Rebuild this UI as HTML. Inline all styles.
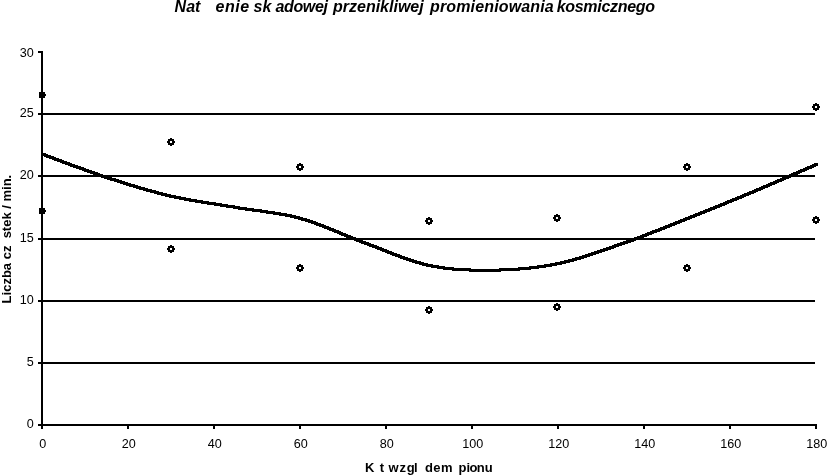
<!DOCTYPE html>
<html lang="pl"><head><meta charset="utf-8"><title>Natężenie składowej przenikliwej promieniowania kosmicznego</title>
<style>
html,body{margin:0;padding:0;background:#fff;overflow:hidden}
svg{display:block;font-family:"Liberation Sans",sans-serif;fill:#000}
.t{font-size:16px;font-weight:bold;font-style:italic}
.a{font-size:13px;font-weight:bold}
.n{font-size:12.6px}
.h{fill:none;fill-opacity:0}
</style></head><body>
<svg width="827" height="475" viewBox="0 0 827 475">
<rect width="827" height="475" fill="#fff"/>
<g shape-rendering="crispEdges"><rect x="41" y="51" width="2" height="378"/><rect x="38" y="424" width="779" height="2"/><rect x="38" y="51" width="5" height="2"/><rect x="38" y="113" width="777" height="2"/><rect x="38" y="175" width="777" height="2"/><rect x="38" y="238" width="777" height="2"/><rect x="38" y="300" width="777" height="2"/><rect x="38" y="362" width="777" height="2"/><rect x="41" y="424" width="2" height="5"/><rect x="127" y="424" width="2" height="5"/><rect x="213" y="424" width="2" height="5"/><rect x="299" y="424" width="2" height="5"/><rect x="385" y="424" width="2" height="5"/><rect x="471" y="424" width="2" height="5"/><rect x="557" y="424" width="2" height="5"/><rect x="643" y="424" width="2" height="5"/><rect x="729" y="424" width="2" height="5"/><rect x="815" y="424" width="2" height="5"/></g>
<g shape-rendering="crispEdges" fill-rule="evenodd"><path transform="translate(167 138)" d="M3 0h2v1h2v2h1v2h-1v2h-2v1h-2v-1h-2v-2h-1v-2h1v-2h2zM3 3v2h2v-2z"/><path transform="translate(167 245)" d="M3 0h2v1h2v2h1v2h-1v2h-2v1h-2v-1h-2v-2h-1v-2h1v-2h2zM3 3v2h2v-2z"/><path transform="translate(296 163)" d="M3 0h2v1h2v2h1v2h-1v2h-2v1h-2v-1h-2v-2h-1v-2h1v-2h2zM3 3v2h2v-2z"/><path transform="translate(296 264)" d="M3 0h2v1h2v2h1v2h-1v2h-2v1h-2v-1h-2v-2h-1v-2h1v-2h2zM3 3v2h2v-2z"/><path transform="translate(425 217)" d="M3 0h2v1h2v2h1v2h-1v2h-2v1h-2v-1h-2v-2h-1v-2h1v-2h2zM3 3v2h2v-2z"/><path transform="translate(425 306)" d="M3 0h2v1h2v2h1v2h-1v2h-2v1h-2v-1h-2v-2h-1v-2h1v-2h2zM3 3v2h2v-2z"/><path transform="translate(553 214)" d="M3 0h2v1h2v2h1v2h-1v2h-2v1h-2v-1h-2v-2h-1v-2h1v-2h2zM3 3v2h2v-2z"/><path transform="translate(553 303)" d="M3 0h2v1h2v2h1v2h-1v2h-2v1h-2v-1h-2v-2h-1v-2h1v-2h2zM3 3v2h2v-2z"/><path transform="translate(683 163)" d="M3 0h2v1h2v2h1v2h-1v2h-2v1h-2v-1h-2v-2h-1v-2h1v-2h2zM3 3v2h2v-2z"/><path transform="translate(683 264)" d="M3 0h2v1h2v2h1v2h-1v2h-2v1h-2v-1h-2v-2h-1v-2h1v-2h2zM3 3v2h2v-2z"/><path transform="translate(812 103)" d="M3 0h2v1h2v2h1v2h-1v2h-2v1h-2v-1h-2v-2h-1v-2h1v-2h2zM3 3v2h2v-2z"/><path transform="translate(812 216)" d="M3 0h2v1h2v2h1v2h-1v2h-2v1h-2v-1h-2v-2h-1v-2h1v-2h2zM3 3v2h2v-2z"/><path d="M39 92h6v2h1v2h-1v2h-6z"/><path d="M39 208h6v2h1v2h-1v2h-6z"/></g>
<polygon shape-rendering="crispEdges" points="41,152.7 43,152.7 45,153.3 47,154 49,154.7 51,155.5 53,156.2 55,157 57,157.7 59,158.5 61,159.2 63,160 65,160.7 67,161.5 69,162.2 71,163 73,163.7 75,164.4 77,165.2 79,165.9 81,166.6 83,167.3 85,168.1 87,168.8 89,169.5 91,170.2 93,170.9 95,171.6 97,172.3 99,173 101,173.7 103,174.4 105,175.1 107,175.7 109,176.4 111,177 113,177.7 115,178.3 117,179 119,179.6 121,180.2 123,180.9 125,181.5 127,182.1 129,182.8 131,183.4 133,184 135,184.6 137,185.2 139,185.8 141,186.4 143,187 145,187.5 147,188.1 149,188.7 151,189.2 153,189.8 155,190.3 157,190.9 159,191.4 161,191.9 163,192.4 165,192.9 167,193.4 169,193.9 171,194.4 173,194.9 175,195.3 177,195.8 179,196.2 181,196.6 183,197 185,197.4 187,197.8 189,198.1 191,198.5 193,198.9 195,199.2 197,199.5 199,199.9 201,200.2 203,200.5 205,200.9 207,201.2 209,201.5 211,201.8 213,202.1 215,202.4 217,202.7 219,203 221,203.3 223,203.6 225,204 227,204.3 229,204.6 231,204.9 233,205.2 235,205.6 237,205.9 239,206.3 241,206.6 243,206.9 245,207.2 247,207.5 249,207.8 251,208.1 253,208.4 255,208.6 257,208.9 259,209.2 261,209.4 263,209.7 265,210 267,210.3 269,210.6 271,210.9 273,211.2 275,211.5 277,211.8 279,212.1 281,212.5 283,212.8 285,213.2 287,213.6 289,214 291,214.4 293,214.8 295,215.3 297,215.8 299,216.3 301,216.8 303,217.4 305,218 307,218.6 309,219.2 311,219.9 313,220.6 315,221.3 317,222 319,222.7 321,223.5 323,224.2 325,225 327,225.8 329,226.6 331,227.4 333,228.2 335,229 337,229.9 339,230.7 341,231.5 343,232.4 345,233.2 347,234 349,234.9 351,235.7 353,236.5 355,237.3 357,238.1 359,238.9 361,239.7 363,240.4 365,241.2 367,241.9 369,242.6 371,243.4 373,244.2 375,244.9 377,245.7 379,246.5 381,247.3 383,248 385,248.8 387,249.6 389,250.4 391,251.2 393,252 395,252.7 397,253.5 399,254.3 401,255 403,255.8 405,256.5 407,257.2 409,257.9 411,258.6 413,259.2 415,259.9 417,260.5 419,261.1 421,261.6 423,262.2 425,262.7 427,263.2 429,263.7 431,264.1 433,264.5 435,264.9 437,265.2 439,265.6 441,265.9 443,266.2 445,266.5 447,266.7 449,267 451,267.2 453,267.4 455,267.6 457,267.7 459,267.9 461,268 463,268.1 465,268.3 467,268.4 469,268.4 471,268.5 473,268.6 475,268.6 477,268.7 479,268.7 481,268.7 483,268.7 485,268.7 487,268.7 489,268.7 491,268.7 493,268.6 495,268.6 497,268.6 499,268.5 501,268.4 503,268.4 505,268.3 507,268.2 509,268.1 511,268 513,267.9 515,267.7 517,267.6 519,267.4 521,267.3 523,267.1 525,266.9 527,266.7 529,266.5 531,266.3 533,266 535,265.8 537,265.5 539,265.2 541,264.9 543,264.6 545,264.3 547,264 549,263.6 551,263.3 553,262.9 555,262.5 557,262.1 559,261.7 561,261.2 563,260.7 565,260.3 567,259.8 569,259.2 571,258.7 573,258.1 575,257.6 577,257 579,256.4 581,255.8 583,255.2 585,254.6 587,253.9 589,253.3 591,252.6 593,252 595,251.3 597,250.6 599,249.9 601,249.2 603,248.5 605,247.8 607,247.1 609,246.4 611,245.7 613,245 615,244.3 617,243.6 619,242.9 621,242.2 623,241.6 625,240.8 627,240.1 629,239.4 631,238.7 633,238 635,237.2 637,236.5 639,235.7 641,235 643,234.2 645,233.4 647,232.7 649,231.9 651,231.1 653,230.3 655,229.5 657,228.8 659,228 661,227.2 663,226.4 665,225.6 667,224.8 669,224 671,223.2 673,222.4 675,221.6 677,220.8 679,220 681,219.2 683,218.4 685,217.6 687,216.8 689,216 691,215.3 693,214.5 695,213.7 697,212.9 699,212.1 701,211.3 703,210.5 705,209.7 707,208.9 709,208.1 711,207.3 713,206.4 715,205.6 717,204.8 719,204 721,203.2 723,202.4 725,201.6 727,200.7 729,199.9 731,199.1 733,198.3 735,197.5 737,196.6 739,195.8 741,195 743,194.1 745,193.3 747,192.5 749,191.6 751,190.8 753,190 755,189.1 757,188.3 759,187.4 761,186.6 763,185.7 765,184.9 767,184 769,183.1 771,182.3 773,181.4 775,180.6 777,179.7 779,178.8 781,178 783,177.1 785,176.2 787,175.3 789,174.5 791,173.6 793,172.7 795,171.9 797,171 799,170.1 801,169.2 803,168.4 805,167.5 807,166.6 809,165.8 811,164.9 813,164 815,163.1 817,162.9 818,162.9 818,165.9 817,166.1 815,167 813,167.9 811,168.8 809,169.6 807,170.5 805,171.4 803,172.2 801,173.1 799,174 797,174.9 795,175.7 793,176.6 791,177.5 789,178.3 787,179.2 785,180.1 783,181 781,181.8 779,182.7 777,183.6 775,184.4 773,185.3 771,186.1 769,187 767,187.9 765,188.7 763,189.6 761,190.4 759,191.3 757,192.1 755,193 753,193.8 751,194.6 749,195.5 747,196.3 745,197.1 743,198 741,198.8 739,199.6 737,200.5 735,201.3 733,202.1 731,202.9 729,203.7 727,204.6 725,205.4 723,206.2 721,207 719,207.8 717,208.6 715,209.4 713,210.3 711,211.1 709,211.9 707,212.7 705,213.5 703,214.3 701,215.1 699,215.9 697,216.7 695,217.5 693,218.3 691,219 689,219.8 687,220.6 685,221.4 683,222.2 681,223 679,223.8 677,224.6 675,225.4 673,226.2 671,227 669,227.8 667,228.6 665,229.4 663,230.2 661,231 659,231.8 657,232.5 655,233.3 653,234.1 651,234.9 649,235.7 647,236.4 645,237.2 643,238 641,238.7 639,239.5 637,240.2 635,241 633,241.7 631,242.4 629,243.1 627,243.8 625,244.6 623,245.2 621,245.9 619,246.6 617,247.3 615,248 613,248.7 611,249.4 609,250.1 607,250.8 605,251.5 603,252.2 601,252.9 599,253.6 597,254.3 595,255 593,255.6 591,256.3 589,256.9 587,257.6 585,258.2 583,258.8 581,259.4 579,260 577,260.6 575,261.1 573,261.7 571,262.2 569,262.8 567,263.3 565,263.7 563,264.2 561,264.7 559,265.1 557,265.5 555,265.9 553,266.3 551,266.6 549,267 547,267.3 545,267.6 543,267.9 541,268.2 539,268.5 537,268.8 535,269 533,269.3 531,269.5 529,269.7 527,269.9 525,270.1 523,270.3 521,270.4 519,270.6 517,270.7 515,270.9 513,271 511,271.1 509,271.2 507,271.3 505,271.4 503,271.4 501,271.5 499,271.6 497,271.6 495,271.6 493,271.7 491,271.7 489,271.7 487,271.7 485,271.7 483,271.7 481,271.7 479,271.7 477,271.7 475,271.7 473,271.6 471,271.6 469,271.5 467,271.4 465,271.4 463,271.3 461,271.1 459,271 457,270.9 455,270.7 453,270.6 451,270.4 449,270.2 447,270 445,269.7 443,269.5 441,269.2 439,268.9 437,268.6 435,268.2 433,267.9 431,267.5 429,267.1 427,266.7 425,266.2 423,265.7 421,265.2 419,264.6 417,264.1 415,263.5 413,262.9 411,262.2 409,261.6 407,260.9 405,260.2 403,259.5 401,258.8 399,258 397,257.3 395,256.5 393,255.7 391,255 389,254.2 387,253.4 385,252.6 383,251.8 381,251 379,250.3 377,249.5 375,248.7 373,247.9 371,247.2 369,246.4 367,245.6 365,244.9 363,244.2 361,243.4 359,242.7 357,241.9 355,241.1 353,240.3 351,239.5 349,238.7 347,237.9 345,237 343,236.2 341,235.4 339,234.5 337,233.7 335,232.9 333,232 331,231.2 329,230.4 327,229.6 325,228.8 323,228 321,227.2 319,226.5 317,225.7 315,225 313,224.3 311,223.6 309,222.9 307,222.2 305,221.6 303,221 301,220.4 299,219.8 297,219.3 295,218.8 293,218.3 291,217.8 289,217.4 287,217 285,216.6 283,216.2 281,215.8 279,215.5 277,215.1 275,214.8 273,214.5 271,214.2 269,213.9 267,213.6 265,213.3 263,213 261,212.7 259,212.4 257,212.2 255,211.9 253,211.6 251,211.4 249,211.1 247,210.8 245,210.5 243,210.2 241,209.9 239,209.6 237,209.3 235,208.9 233,208.6 231,208.2 229,207.9 227,207.6 225,207.3 223,207 221,206.6 219,206.3 217,206 215,205.7 213,205.4 211,205.1 209,204.8 207,204.5 205,204.2 203,203.9 201,203.5 199,203.2 197,202.9 195,202.5 193,202.2 191,201.9 189,201.5 187,201.1 185,200.8 183,200.4 181,200 179,199.6 177,199.2 175,198.8 173,198.3 171,197.9 169,197.4 167,196.9 165,196.4 163,195.9 161,195.4 159,194.9 157,194.4 155,193.9 153,193.3 151,192.8 149,192.2 147,191.7 145,191.1 143,190.5 141,190 139,189.4 137,188.8 135,188.2 133,187.6 131,187 129,186.4 127,185.8 125,185.1 123,184.5 121,183.9 119,183.2 117,182.6 115,182 113,181.3 111,180.7 109,180 107,179.4 105,178.7 103,178.1 101,177.4 99,176.7 97,176 95,175.3 93,174.6 91,173.9 89,173.2 87,172.5 85,171.8 83,171.1 81,170.3 79,169.6 77,168.9 75,168.2 73,167.4 71,166.7 69,166 67,165.2 65,164.5 63,163.7 61,163 59,162.2 57,161.5 55,160.7 53,160 51,159.2 49,158.5 47,157.7 45,157 43,156.3 41,155.7"/>
<g class="n"><text x="33.8" y="57" text-anchor="end">30</text><text x="33.8" y="117" text-anchor="end">25</text><text x="33.8" y="179" text-anchor="end">20</text><text x="33.8" y="242" text-anchor="end">15</text><text x="33.8" y="304" text-anchor="end">10</text><text x="33.8" y="366" text-anchor="end">5</text><text x="33.8" y="428" text-anchor="end">0</text><text x="42.7" y="448" text-anchor="middle">0</text><text x="128.7" y="448" text-anchor="middle">20</text><text x="214.7" y="448" text-anchor="middle">40</text><text x="300.7" y="448" text-anchor="middle">60</text><text x="386.7" y="448" text-anchor="middle">80</text><text x="472.7" y="448" text-anchor="middle">100</text><text x="558.7" y="448" text-anchor="middle">120</text><text x="644.7" y="448" text-anchor="middle">140</text><text x="730.7" y="448" text-anchor="middle">160</text><text x="816.7" y="448" text-anchor="middle">180</text></g>
<g class="t">
<text y="11.7"><tspan x="174.6">Nat</tspan><tspan class="h">ęż</tspan><tspan x="215.6" letter-spacing="0.5">enie</tspan> <tspan x="253.6">sk</tspan><tspan class="h">ł</tspan><tspan x="275.6" letter-spacing="-0.4">adowej</tspan> <tspan x="333">przenikliwej</tspan> <tspan x="430" letter-spacing="0.15">promieniowania</tspan> <tspan x="556.7" letter-spacing="-0.3">kosmicznego</tspan></text>
</g>
<g class="a">
<text y="472"><tspan x="365">K</tspan><tspan class="h">ą</tspan><tspan x="379.8">t</tspan> <tspan x="388.5 399.6 406.8 414.1">wzgl</tspan><tspan class="h">ę</tspan><tspan x="424.9" letter-spacing="0.5">dem</tspan> <tspan x="458.5 466.6 469.4 476.8 484.8">pionu</tspan></text>
<text transform="translate(11 303.4) rotate(-90)" x="0" y="0">Liczba cz<tspan class="h">ą</tspan>stek / min.</text>
</g>
</svg>
</body></html>
